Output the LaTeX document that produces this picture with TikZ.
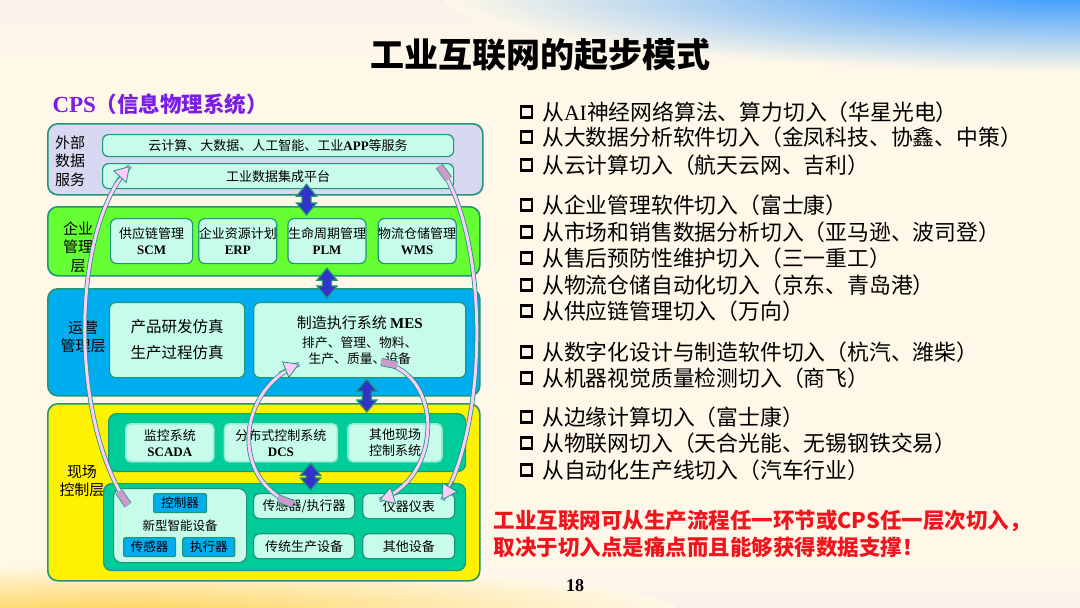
\documentclass[tikz,border=0pt]{standalone}
\usepackage{fontspec}
\setmainfont{Liberation Serif}
\newfontfamily\cjk{Noto Sans CJK SC}
\usepackage{tikz}
\usetikzlibrary{positioning, calc, arrows.meta}

\definecolor{edgeteal}{RGB}{30,150,120}
\definecolor{lav}{RGB}{216,216,242}
\definecolor{mint}{RGB}{200,252,234}
\definecolor{leaf}{RGB}{102,255,51}
\definecolor{sea}{RGB}{0,204,153}
\definecolor{linkblue}{RGB}{51,51,204}
\definecolor{pinkface}{RGB}{255,204,255}
\definecolor{mauve}{RGB}{204,153,204}
\definecolor{cream}{RGB}{255,248,232}
\definecolor{blush}{RGB}{251,241,236}
\definecolor{haze}{RGB}{232,234,248}
\definecolor{skyblue}{RGB}{50,150,255}
\definecolor{sun}{RGB}{255,212,90}
\definecolor{violet}{RGB}{122,30,230}
\definecolor{alert}{RGB}{240,20,30}

\newcommand{\en}[1]{{\rmfamily\bfseries #1}}
\newcommand{\boxfont}{\cjk\fontsize{13}{16}\selectfont}
\newcommand{\tagfont}{\cjk\fontsize{15}{18.5}\selectfont}
\newcommand{\itemfont}{\cjk\fontsize{21.8}{25}\selectfont}

\tikzstyle{layer} = [rectangle, rounded corners=10pt, draw=edgeteal, line width=1.6pt, inner sep=0pt, anchor=north west]
\tikzstyle{tray} = [layer, rounded corners=8pt, fill=sea, line width=1.2pt]
\tikzstyle{cell} = [rectangle, rounded corners=6pt, draw=edgeteal, line width=1.2pt, fill=mint, inner sep=0pt, align=center, font=\boxfont]
\tikzstyle{softcell} = [cell, draw=mint!70!sea, line width=1.6pt, rounded corners=5pt]
\tikzstyle{chip} = [cell, fill=cyan, rounded corners=2pt, minimum width=53pt, minimum height=19pt, font=\cjk\fontsize{12.5}{15}\selectfont]
\tikzstyle{tag} = [align=center, font=\tagfont, inner sep=0pt]
\tikzstyle{checkbox} = [draw=black, line width=2.4pt, minimum size=11pt, inner sep=0pt]
\tikzstyle{item} = [anchor=west, inner sep=0pt, font=\itemfont, label={[checkbox, label distance=9pt]left:{}}]
\tikzstyle{curvy} = [draw=edgeteal, line width=0.8pt, double=pinkface, double distance=3pt]
\tikzstyle{curvytail} = [draw=edgeteal, line width=0.8pt, double=mauve, double distance=6.5pt]
\tikzstyle{curvyhead} = [draw=edgeteal, line width=0.8pt, -{Triangle[width=18pt,length=15pt,fill=pinkface]}]

% fat two-way arrow between two points (top first)
\newcommand{\dlink}[2]{%
  \draw[edgeteal, line width=1.2pt, fill=linkblue, line join=miter]
    let \p1=#1, \p2=#2 in
    (\x1,\y1) -- ++(10pt,-12pt) -- ++(-5.5pt,0pt) -- (\x2+4.5pt,\y2+12pt) -- ++(5.5pt,0pt) -- (\x2,\y2)
    -- ++(-10pt,12pt) -- ++(5.5pt,0pt) -- (\x1-4.5pt,\y1-12pt) -- ++(-5.5pt,0pt) -- cycle;}

% bent ribbon arrow: tail, tail control, head control, head
\newcommand{\bend}[4]{%
  \coordinate (c1) at ($(#1)+#2$);
  \coordinate (c2) at ($(#4)+#3$);
  \draw[curvy] (#1) .. controls (c1) and (c2) .. (#4);
  \draw[curvytail] (#1) -- ($(#1)!16pt!(c1)$);
  \draw[curvyhead] ($(#4)!22pt!(c2)$) -- (#4);}

\begin{document}
\begin{tikzpicture}[x=1pt, y=-1pt, node distance=6pt]
\useasboundingbox (0,0) rectangle (1080,608);
% slide background
\fill[cream] (0,0) rectangle (1080,608);
\shade[top color=blush, bottom color=cream] (0,0) rectangle (1080,60);
\shade[top color=cream, bottom color=blush] (0,565) rectangle (1080,608);
\begin{scope}
\clip (0,0) rectangle (1080,608);
\shade[inner color=skyblue, outer color=cream] (1080,-8) ellipse (640 and 80);
\shade[inner color=sun, outer color=cream] (120,612) ellipse (560 and 48);
\end{scope}

\node (title) [font=\cjk\bfseries\fontsize{34}{40}\selectfont] at (540,55) {工业互联网的起步模式};
\node (cps) [anchor=west, text=violet, font=\bfseries\fontsize{21.5}{24}\selectfont] at (49,104) {{\fontsize{23}{24}\selectfont CPS}{\cjk （信息物理系统）}};

% the four layers
\node (ext) [layer, fill=lav, minimum width=435pt, minimum height=71pt] at (47,123) {};
\node (ent) [layer, fill=leaf, minimum width=432pt, minimum height=69pt] at (47,206) {};
\node (ops) [layer, fill=cyan, minimum width=432pt, minimum height=107pt] at (47,288) {};
\node (fld) [layer, fill=yellow, minimum width=432pt, minimum height=177pt] at (47,403) {};

% external data services
\node (extlabel) [tag] at (70,161) {外部\\数据\\服务};
\node (svc) [cell, anchor=north west, minimum width=351pt, minimum height=22pt] at (102,134) {云计算、大数据、人工智能、工业\en{APP}等服务};
\node (plat) [cell, anchor=north west, minimum width=351pt, minimum height=25pt] at (102,163) {工业数据集成平台};

% enterprise management
\node (entlabel) [tag] at (78,247) {企业\\管理\\层};
\node (scm) [cell, anchor=north west, minimum width=82pt, minimum height=45pt] at (110,218) {供应链管理\\\en{SCM}};
\node (erp) [cell, minimum width=73pt, minimum height=45pt, right=5pt of scm] {企业资源计划\\\en{ERP}};
\node (plm) [cell, minimum width=77pt, minimum height=45pt, right=10pt of erp] {生命周期管理\\\en{PLM}};
\node (wms) [cell, minimum width=78pt, minimum height=45pt, right=11pt of plm] {物流仓储管理\\\en{WMS}};

% operations management
\node (opslabel) [tag] at (83,337) {运营\\管理层};
\node (sim) [cell, anchor=north west, minimum width=135pt, minimum height=75pt, font=\cjk\fontsize{15.5}{26}\selectfont] at (109,302) {产品研发仿真\\生产过程仿真};
\node (mes) [cell, minimum width=212pt, minimum height=75pt, right=8pt of sim, font=\cjk\fontsize{12.8}{16}\selectfont] {{\fontsize{15}{18}\selectfont 制造执行系统 \en{MES}}\\[3pt]排产、管理、物料、\\生产、质量、设备};

% field control
\node (fldlabel) [tag] at (82,481) {现场\\控制层};
\node (ctl) [tray, minimum width=357pt, minimum height=58pt] at (108,413) {};
\node (scada) [softcell, anchor=north west, minimum width=88pt, minimum height=38pt] at (125,423) {监控系统\\\en{SCADA}};
\node (dcs) [softcell, minimum width=113pt, minimum height=38pt, right=9pt of scada] {分布式控制系统\\\en{DCS}};
\node (oth) [softcell, minimum width=94pt, minimum height=38pt, right=9pt of dcs] {其他现场\\控制系统};
\node (dev) [tray, minimum width=362pt, minimum height=87pt] at (103,483) {};
\node (smart) [cell, anchor=north west, minimum width=133pt, minimum height=74pt, rounded corners=8pt, font=\cjk\fontsize{12.5}{15}\selectfont] at (113,488) {新型智能设备};
\node (ctrlr) [chip, anchor=north west] at (153,493) {控制器};
\node (sens) [chip, anchor=north west, minimum width=52pt] at (123,537) {传感器};
\node (actu) [chip, minimum width=52pt, right=6pt of sens] {执行器};
\node (sa) [cell, anchor=north west, minimum width=101pt, minimum height=25pt] at (253,493) {传感器/执行器};
\node (inst) [cell, minimum width=92pt, minimum height=25pt, right=7pt of sa] {仪器仪表};
\node (trad) [cell, minimum width=101pt, minimum height=25pt, below=14pt of sa] {传统生产设备};
\node (other) [cell, minimum width=92pt, minimum height=25pt, right=7pt of trad] {其他设备};

% two-way links between layers
\dlink{([xshift=-20.5pt,yshift=5pt]plm.north |- plat.south)}{([xshift=-20.5pt,yshift=3pt]plm.north)}
\dlink{([yshift=-4pt]plm.south)}{([yshift=4pt]plm.south |- mes.north)}
\dlink{([xshift=7pt,yshift=-1pt]mes.south)}{([xshift=7pt,yshift=1pt]mes.south |- ctl.north)}
\dlink{([xshift=23.5pt,yshift=9pt]ctl.south)}{([xshift=23.5pt,yshift=-7pt]ctl.south |- dev.north)}

% ribbon arrows
\coordinate (tA) at ([xshift=15pt,yshift=-17pt]smart.north west);
\coordinate (hA) at ([xshift=28pt,yshift=-3pt]plat.north west);
\bend{tA}{(-58,-85)}{(-60,64)}{hA}
\coordinate (tB) at ([xshift=-15pt,yshift=-3pt]plat.north east);
\coordinate (hB) at ([xshift=-13pt,yshift=-7pt]inst.north east);
\bend{tB}{(49,69)}{(47,-80)}{hB}
\coordinate (tC) at ([xshift=40pt,yshift=-11pt]sa.north west);
\coordinate (hC) at ([xshift=46pt,yshift=-62pt]mes.north west);
\bend{tC}{(-63,-24)}{(-63,26)}{hC}
\coordinate (tD) at ([xshift=128pt,yshift=-60pt]mes.north west);
\coordinate (hD) at ([xshift=17pt,yshift=-7pt]inst.north west);
\bend{tD}{(65,13)}{(62,-20)}{hD}

% ways in
\node (i1) [item] at (542,112) {从\textrm{AI}神经网络算法、算力切入（华星光电）};
\node (i2) [item] at (542,137) {从大数据分析软件切入（金凤科技、协鑫、中策）};
\node (i3) [item] at (542,165) {从云计算切入（航天云网、吉利）};
\node (i4) [item] at (542,205) {从企业管理软件切入（富士康）};
\node (i5) [item] at (542,232) {从市场和销售数据分析切入（亚马逊、波司登）};
\node (i6) [item] at (542,258) {从售后预防性维护切入（三一重工）};
\node (i7) [item] at (542,285) {从物流仓储自动化切入（京东、青岛港）};
\node (i8) [item] at (542,311) {从供应链管理切入（万向）};
\node (i9) [item] at (542,352) {从数字化设计与制造软件切入（杭汽、潍柴）};
\node (i10) [item] at (542,378) {从机器视觉质量检测切入（商飞）};
\node (i11) [item] at (542,417) {从边缘计算切入（富士康）};
\node (i12) [item] at (542,443) {从物联网切入（天合光能、无锡钢铁交易）};
\node (i13) [item] at (542,470) {从自动化生产线切入（汽车行业）};

\node (note) [anchor=west, align=left, text=alert, font=\cjk\bfseries\fontsize{21.5}{27}\selectfont] at (490,534) {工业互联网可从生产流程任一环节或CPS任一层次切入，\\取决于切入点是痛点而且能够获得数据支撑！};
\node (page) [font=\bfseries\fontsize{18}{20}\selectfont] at (575,586) {18};
\end{tikzpicture}
\end{document}
